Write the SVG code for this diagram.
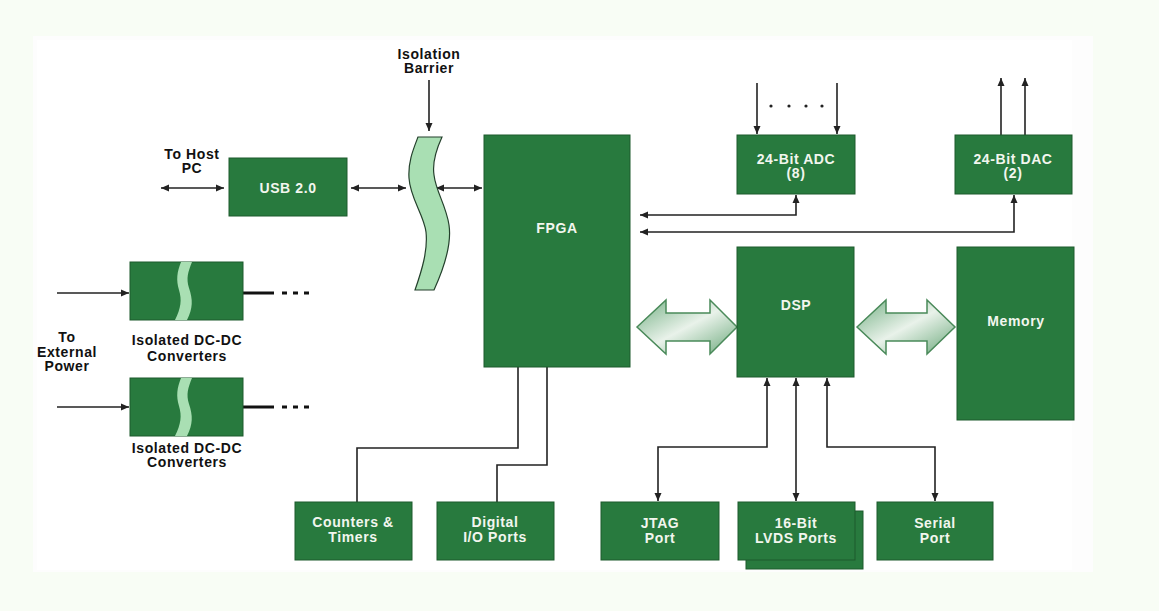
<svg xmlns="http://www.w3.org/2000/svg" width="1159" height="611" viewBox="0 0 1159 611">
<style>
.box{fill:#287a3e;stroke:#1d5a2d;stroke-width:1}
.wt{fill:#f2f6ee;font-family:"Liberation Sans",Arial,sans-serif;font-weight:bold;font-size:14px;text-anchor:middle;letter-spacing:0.6px}
.bt{fill:#111;font-family:"Liberation Sans",Arial,sans-serif;font-weight:bold;font-size:14px;text-anchor:middle;letter-spacing:0.6px}
.ln{fill:none;stroke:#222;stroke-width:1.6}
.both{marker-start:url(#ah);marker-end:url(#ah)}
.end{marker-end:url(#ah)}
.band{fill:#a9dfb3;stroke:#24402c;stroke-width:1.2}
.big{fill:url(#g);stroke:#4a8a5a;stroke-width:1.5}
</style>
<defs>
<marker id="ah" markerUnits="userSpaceOnUse" markerWidth="9" markerHeight="8" refX="8" refY="4" orient="auto-start-reverse">
<path d="M0,0.5 L8,4 L0,7.5 Z" fill="#222"/>
</marker>
<linearGradient id="g" x1="0" y1="0" x2="1" y2="1">
<stop offset="0" stop-color="#74b084"/>
<stop offset="0.5" stop-color="#e9f2ea"/>
<stop offset="1" stop-color="#6aa87a"/>
</linearGradient>
</defs>
<rect x="0" y="0" width="1159" height="611" fill="#f8fdf5"/>
<rect x="33" y="36" width="1060" height="536" fill="#fdfdfd"/>
<rect x="37" y="40" width="1035" height="530" fill="#ffffff"/>

<g id="connectors">
<line class="ln both" x1="161" y1="188" x2="224" y2="188"/>
<line class="ln both" x1="351" y1="188" x2="406" y2="188"/>
<line class="ln both" x1="436" y1="188" x2="482" y2="188"/>
<line class="ln end" x1="429" y1="80" x2="429" y2="131"/>
<line class="ln end" x1="757" y1="83" x2="757" y2="134"/>
<line class="ln end" x1="837" y1="83" x2="837" y2="134"/>
<g fill="#222"><circle cx="771" cy="106" r="1.6"/><circle cx="789" cy="106" r="1.6"/><circle cx="806" cy="106" r="1.6"/><circle cx="822" cy="106" r="1.6"/></g>
<line class="ln end" x1="1001" y1="135" x2="1001" y2="78"/>
<line class="ln end" x1="1025" y1="135" x2="1025" y2="78"/>
<path class="ln both" d="M796,195 L796,215 L640,215"/>
<path class="ln both" d="M1014,195 L1014,232 L640,232"/>
<path class="ln" d="M518,367 L518,448 L357,448 L357,502"/>
<path class="ln" d="M547,367 L547,465 L497,465 L497,502"/>
<path class="ln both" d="M767,378 L767,447 L658,447 L658,501"/>
<path class="ln both" d="M796,378 L796,501"/>
<path class="ln both" d="M827,378 L827,447 L935,447 L935,501"/>
<line class="ln end" x1="57" y1="293" x2="129" y2="293"/>
<line class="ln end" x1="57" y1="407" x2="129" y2="407"/>
<line x1="243" y1="293" x2="274" y2="293" stroke="#111" stroke-width="3"/>
<line x1="243" y1="407" x2="274" y2="407" stroke="#111" stroke-width="3"/>
<line x1="282" y1="293" x2="314" y2="293" stroke="#111" stroke-width="3" stroke-dasharray="5,6"/>
<line x1="282" y1="407" x2="314" y2="407" stroke="#111" stroke-width="3" stroke-dasharray="5,6"/>
<path class="big" d="M637,327 L666,300 L666,313 L710,313 L710,300 L737,327 L710,354 L710,341 L666,341 L666,354 Z"/>
<path class="big" d="M857,327 L886,300 L886,313 L927,313 L927,300 L955,327 L927,354 L927,341 L886,341 L886,354 Z"/>
</g>

<g id="barrier">
<path class="band" d="M418,137 L442,137 C436,150 432,162 434,175 C436,192 446,205 449,225 C452,245 444,268 434,290 L415,290 C422,270 428,250 426,232 C424,215 410,198 409,178 C408,162 413,150 418,137 Z"/>
<text class="bt" x="429" y="59">Isolation</text>
<text class="bt" x="429" y="73">Barrier</text>
</g>

<g id="host-label"><text class="bt" x="192" y="159">To Host</text><text class="bt" x="192" y="173">PC</text></g>

<g id="usb"><rect class="box" x="229" y="158" width="118" height="58"/><text class="wt" x="288" y="193">USB 2.0</text></g>

<g id="fpga"><rect class="box" x="484" y="135" width="146" height="232"/><text class="wt" x="557" y="233">FPGA</text></g>

<g id="adc"><rect class="box" x="737" y="135" width="118" height="59"/><text class="wt" x="796" y="164">24-Bit ADC</text><text class="wt" x="796" y="178">(8)</text></g>

<g id="dac"><rect class="box" x="955" y="135" width="117" height="59"/><text class="wt" x="1013" y="164">24-Bit DAC</text><text class="wt" x="1013" y="178">(2)</text></g>

<g id="dsp"><rect class="box" x="737" y="247" width="117" height="130"/><text class="wt" x="796" y="310">DSP</text></g>

<g id="memory"><rect class="box" x="957" y="247" width="117" height="173"/><text class="wt" x="1016" y="326">Memory</text></g>

<g id="dcdc1"><rect class="box" x="130" y="262" width="113" height="58"/>
<path d="M181,262 L192,262 C188,272 186,278 189,288 C193,300 193,308 187,320 L175,320 C181,308 182,300 179,290 C176,280 177,272 181,262 Z" fill="#a9dfb3"/>
<text class="bt" x="187" y="345">Isolated DC-DC</text><text class="bt" x="187" y="361">Converters</text></g>

<g id="dcdc2"><rect class="box" x="130" y="378" width="113" height="58"/>
<path d="M181,378 L192,378 C188,388 186,394 189,404 C193,416 193,424 187,436 L175,436 C181,424 182,416 179,406 C176,396 177,388 181,378 Z" fill="#a9dfb3"/>
<text class="bt" x="187" y="453">Isolated DC-DC</text><text class="bt" x="187" y="467">Converters</text></g>

<g id="ext-label"><text class="bt" x="67" y="342">To</text><text class="bt" x="67" y="357">External</text><text class="bt" x="67" y="371">Power</text></g>

<g id="counters"><rect class="box" x="295" y="502" width="117" height="58"/><text class="wt" x="353" y="527">Counters &amp;</text><text class="wt" x="353" y="542">Timers</text></g>

<g id="dio"><rect class="box" x="437" y="502" width="117" height="58"/><text class="wt" x="495" y="527">Digital</text><text class="wt" x="495" y="542">I/O Ports</text></g>

<g id="jtag"><rect class="box" x="601" y="502" width="118" height="58"/><text class="wt" x="660" y="528">JTAG</text><text class="wt" x="660" y="543">Port</text></g>

<g id="lvds"><rect class="box" x="746" y="511" width="117" height="58"/><rect class="box" x="738" y="502" width="117" height="58"/><text class="wt" x="796" y="528">16-Bit</text><text class="wt" x="796" y="543">LVDS Ports</text></g>

<g id="serial"><rect class="box" x="877" y="502" width="116" height="58"/><text class="wt" x="935" y="528">Serial</text><text class="wt" x="935" y="543">Port</text></g>
</svg>
